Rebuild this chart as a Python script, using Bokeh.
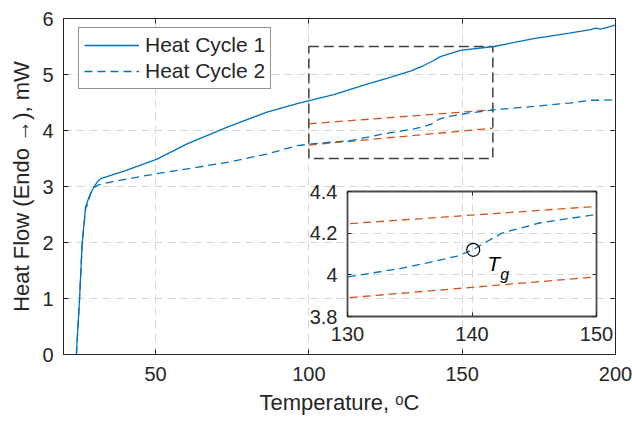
from bokeh.plotting import figure
from bokeh.models import Range1d, LinearAxis, FixedTicker, Legend, LegendItem
from bokeh.layouts import column
from bokeh.embed import file_html
from bokeh.resources import INLINE
from bokeh.core.properties import value

# ---------------- data ----------------
cycle1_T = [24.2, 25.2, 26.1, 27.2, 28.3, 29.9, 31.0, 32.1, 40.0, 50.5, 60.3, 73.4, 86.4,
            96.2, 100.5, 108.1, 119.0, 126.0, 133.1, 137.5, 140.7, 142.9, 149.4, 160.3,
            173.3, 185.0, 191.8, 193.5, 195.1, 200.0]
cycle1_Q = [0.0, 0.96, 1.99, 2.63, 2.81, 2.99, 3.08, 3.14, 3.28, 3.49, 3.76, 4.06, 4.33,
            4.48, 4.54, 4.64, 4.83, 4.94, 5.06, 5.16, 5.25, 5.32, 5.43, 5.50,
            5.64, 5.74, 5.80, 5.83, 5.81, 5.88]

cycle2_T = [24.2, 25.2, 26.1, 27.2, 27.9, 29.3, 31.5, 35.3, 50.5, 73.4, 86.4, 96.2, 102.7,
            113.6, 124.4, 130.0, 132.1, 134.2, 135.0, 136.6, 138.8, 140.1, 140.9, 142.4,
            145.5, 150.0, 152.0, 160.3, 173.3, 185.0, 191.8, 196.0, 200.0]
cycle2_Q = [0.0, 0.96, 1.99, 2.60, 2.69, 2.96, 3.03, 3.08, 3.23, 3.43, 3.58, 3.73, 3.77,
            3.82, 3.94, 3.99, 4.01, 4.03, 4.04, 4.06, 4.09, 4.12, 4.15, 4.20,
            4.25, 4.29, 4.31, 4.37, 4.43, 4.49, 4.54, 4.54, 4.55]

tangent_T = [100, 160]
tangent_upper_Q = [4.12, 4.37]
tangent_lower_Q = [3.74, 4.04]

zoom_T = [100, 160]
zoom_Q = [3.5, 5.5]

tg_T = [140.1]
tg_Q = [4.12]

main_xticks = [50, 100, 150, 200]
main_yticks = [0, 1, 2, 3, 4, 5, 6]
inset_xticks = [130, 140, 150]
inset_yticks = [3.8, 4.0, 4.2, 4.4]
inset_ylabels = ["3.8", "4", "4.2", "4.4"]

# ---------------- style ----------------
FONT = "Liberation Sans"
TXT = "#262626"
BLUE = "#0072BD"
RED = "#D95319"
GRID = "#d7d7d7"


def style_axes(fig, xt, yt, tick_size="20px", tick_len=5):
    bx = fig.below[0]
    ly = fig.left[0]
    for ax in (bx, ly):
        ax.major_label_text_font = FONT
        ax.major_label_text_font_size = tick_size
        ax.major_label_text_color = TXT
        ax.axis_line_color = TXT
        ax.major_tick_line_color = TXT
        ax.major_tick_in = tick_len
        ax.major_tick_out = 0
        ax.minor_tick_line_color = None
        ax.axis_label_text_font = FONT
        ax.axis_label_text_font_style = "normal"
        ax.axis_label_text_color = TXT
    bx.ticker = FixedTicker(ticks=xt)
    ly.ticker = FixedTicker(ticks=yt)
    top = LinearAxis(ticker=FixedTicker(ticks=xt), major_label_text_font_size="0px",
                     major_label_standoff=0, major_tick_in=tick_len, major_tick_out=0,
                     minor_tick_line_color=None, axis_line_color=None,
                     major_tick_line_color=TXT)
    right = LinearAxis(ticker=FixedTicker(ticks=yt), major_label_text_font_size="0px",
                       major_label_standoff=0, major_tick_in=tick_len, major_tick_out=0,
                       minor_tick_line_color=None, axis_line_color=None,
                       major_tick_line_color=TXT)
    fig.add_layout(top, "above")
    fig.add_layout(right, "right")
    for g in (fig.xgrid[0], fig.ygrid[0]):
        g.grid_line_color = GRID
        g.grid_line_dash = "8 5"
        g.grid_line_width = 1
    return bx, ly


# ---------------- main figure ----------------
p = figure(frame_width=552, frame_height=336, x_range=Range1d(20, 200), y_range=Range1d(0, 6),
           output_backend="svg", toolbar_location=None,
           min_border_left=63, min_border_right=17, min_border_top=18, min_border_bottom=67)
p.outline_line_color = TXT
p.outline_line_width = 1
p.background_fill_color = "white"
p.border_fill_color = "white"

bx, ly = style_axes(p, main_xticks, main_yticks)
bx.axis_label = "Temperature, \u1d52C"
ly.axis_label = "Heat Flow (Endo \u2192), mW"
bx.axis_label_text_font_size = "22px"
ly.axis_label_text_font_size = "22px"
bx.major_label_standoff = 12
ly.major_label_standoff = 10
bx.axis_label_standoff = 6
ly.axis_label_standoff = 5

p.quad(left=[zoom_T[0]], right=[zoom_T[1]], bottom=[zoom_Q[0]], top=[zoom_Q[1]],
       fill_alpha=0, line_color="#404040", line_width=1.5, line_dash="10 5")
p.line(tangent_T, tangent_upper_Q, line_color=RED, line_width=1.3, line_dash="8 5")
p.line(tangent_T, tangent_lower_Q, line_color=RED, line_width=1.3, line_dash="8 5")
r1 = p.line(cycle1_T, cycle1_Q, line_color=BLUE, line_width=1.3)
r2 = p.line(cycle2_T, cycle2_Q, line_color=BLUE, line_width=1.3, line_dash="8 5")

legend = Legend(items=[LegendItem(label="Heat Cycle 1", renderers=[r1]),
                       LegendItem(label="Heat Cycle 2", renderers=[r2])],
                location=(15, 265))
legend.label_text_font = FONT
legend.label_text_font_size = "21px"
legend.label_text_color = TXT
legend.glyph_width = 55
legend.glyph_height = 20
legend.label_height = 20
legend.label_standoff = 6
legend.spacing = 2
legend.padding = 5
legend.margin = 0
legend.border_line_color = TXT
legend.border_line_width = 1
legend.background_fill_alpha = 1
p.add_layout(legend)

# ---------------- inset ----------------
# borders equal to the main figure's, because the column aligns plot frames
inset = figure(frame_width=249, frame_height=125, x_range=Range1d(130, 150),
               y_range=Range1d(3.8, 4.4),
               output_backend="svg", toolbar_location=None,
               min_border_left=63, min_border_right=17, min_border_top=14, min_border_bottom=34)
inset.background_fill_alpha = 0
inset.border_fill_alpha = 0
inset.outline_line_color = "#4a4a4a"
inset.outline_line_width = 1.8
ibx, ily = style_axes(inset, inset_xticks, inset_yticks, tick_len=4)
ily.major_label_overrides = {t: s for t, s in zip(inset_yticks, inset_ylabels)}
ibx.major_label_standoff = 10
ily.major_label_standoff = 10
ibx.axis_line_color = None
ily.axis_line_color = None

inset.line(tangent_T, tangent_upper_Q, line_color=RED, line_width=1.3, line_dash="8 5")
inset.line(tangent_T, tangent_lower_Q, line_color=RED, line_width=1.3, line_dash="8 5")
inset.line(cycle2_T, cycle2_Q, line_color=BLUE, line_width=1.3, line_dash="8 5")
inset.scatter(tg_T, tg_Q, marker="circle", size=13, fill_alpha=0, line_color="black",
              line_width=1.2)
inset.text(tg_T, tg_Q, text=["T"], x_offset=14, y_offset=14, text_font=value(FONT),
           text_font_style="italic", text_font_size="21px", text_color="black",
           text_baseline="alphabetic", text_align="left")
inset.text(tg_T, tg_Q, text=["g"], x_offset=27, y_offset=25, text_font=value(FONT),
           text_font_style="italic", text_font_size="16px", text_color="black",
           text_baseline="alphabetic", text_align="left")

inset.styles = {"position": "absolute", "left": "284px", "top": "177px"}

layout = column(p, inset)
open("out.html", "w").write(file_html(layout, INLINE))
